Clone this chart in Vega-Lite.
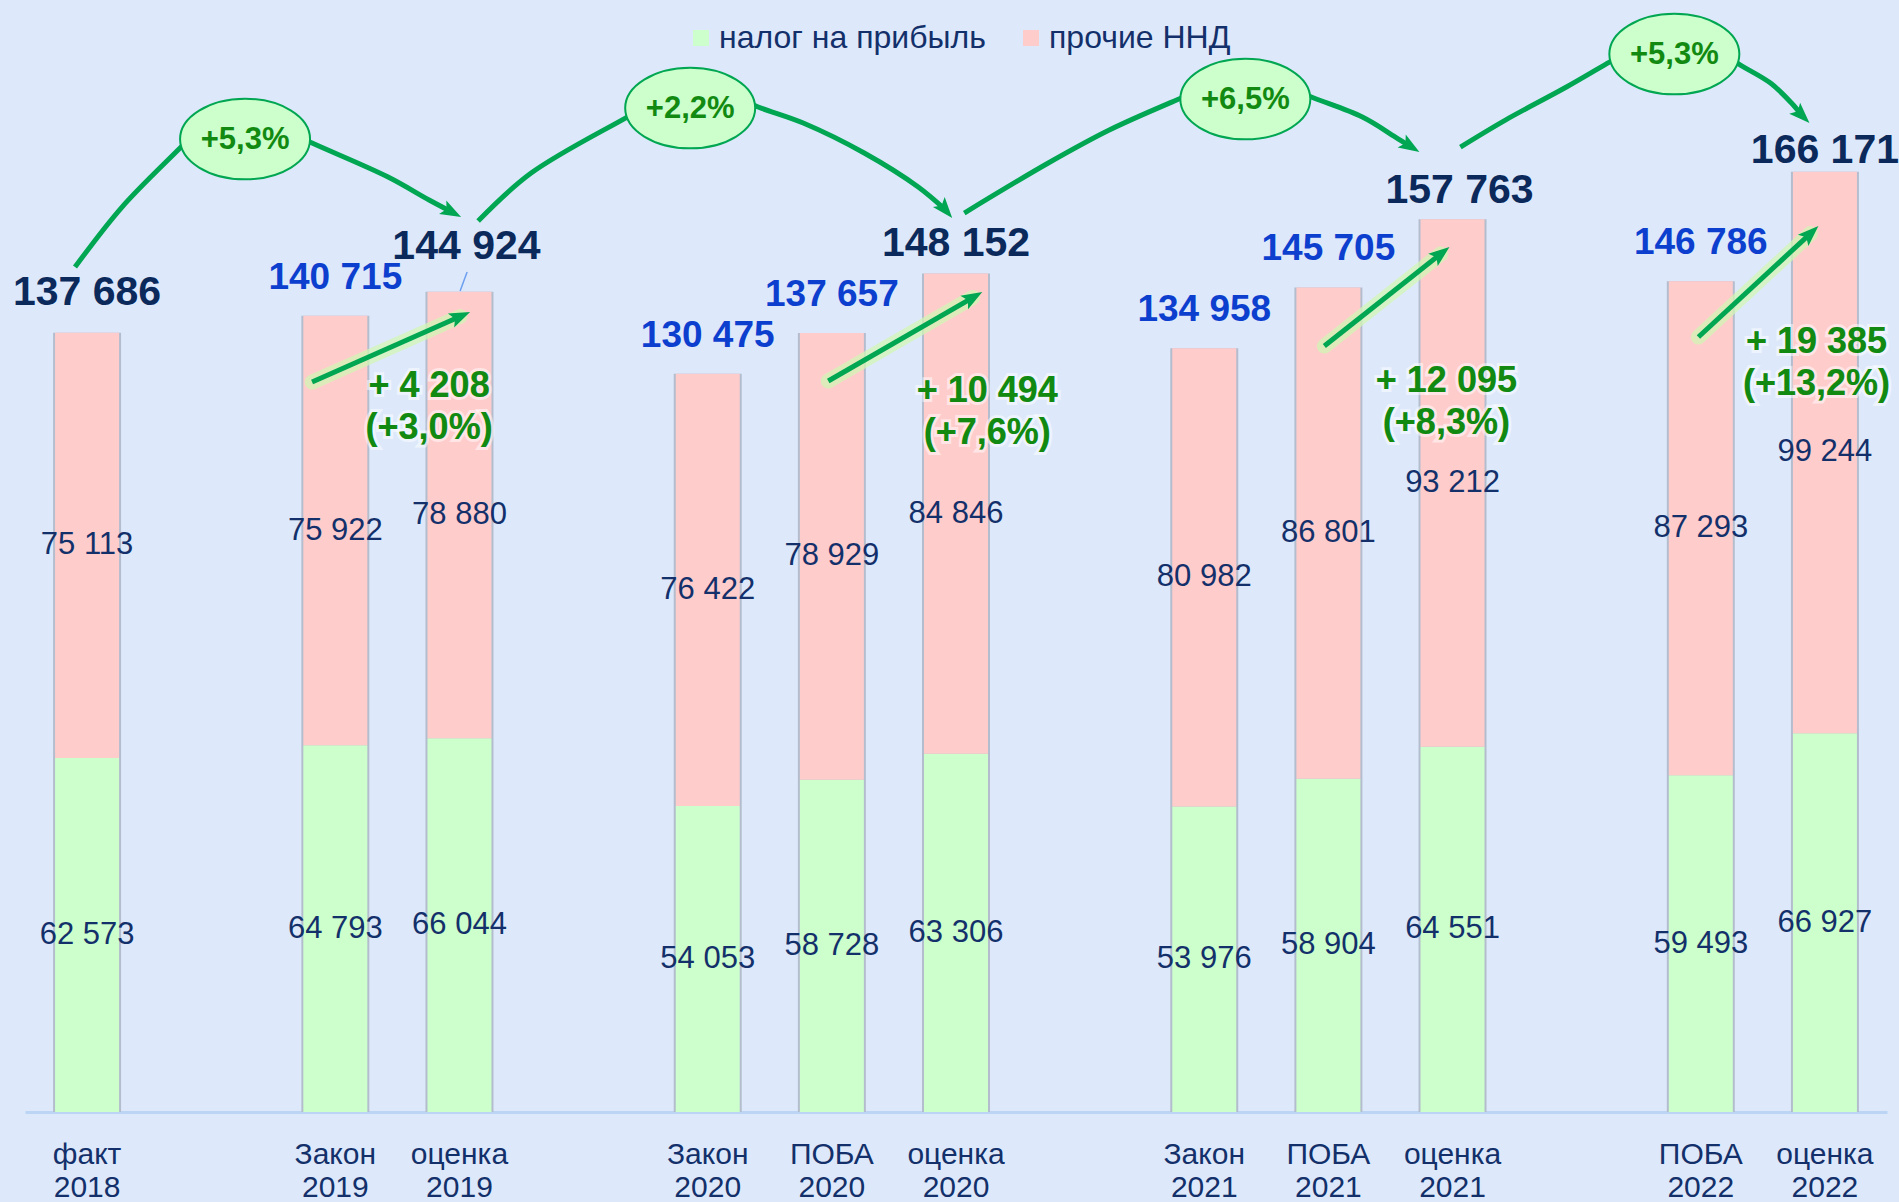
{
  "$schema": "https://vega.github.io/schema/vega-lite/v6.json",
  "width": 1862,
  "height": 1112,
  "autosize": "none",
  "padding": {"left": 25, "top": 0, "right": 12, "bottom": 90},
  "background": "#dde9fb",
  "config": {
    "font": "Liberation Sans",
    "view": {"stroke": null},
    "locale": {"number": {"decimal": ",", "thousands": "\u00a0", "grouping": [3], "currency": ["", ""]}}
  },
  "datasets": {
    "bars": [
      {"cat": "факт 2018", "kind": "факт", "series": "налог на прибыль", "value": 62573},
      {"cat": "факт 2018", "kind": "факт", "series": "прочие ННД", "value": 75113},
      {"cat": "Закон 2019", "kind": "Закон", "series": "налог на прибыль", "value": 64793},
      {"cat": "Закон 2019", "kind": "Закон", "series": "прочие ННД", "value": 75922},
      {"cat": "оценка 2019", "kind": "оценка", "series": "налог на прибыль", "value": 66044},
      {"cat": "оценка 2019", "kind": "оценка", "series": "прочие ННД", "value": 78880},
      {"cat": "Закон 2020", "kind": "Закон", "series": "налог на прибыль", "value": 54053},
      {"cat": "Закон 2020", "kind": "Закон", "series": "прочие ННД", "value": 76422},
      {"cat": "ПОБА 2020", "kind": "ПОБА", "series": "налог на прибыль", "value": 58728},
      {"cat": "ПОБА 2020", "kind": "ПОБА", "series": "прочие ННД", "value": 78929},
      {"cat": "оценка 2020", "kind": "оценка", "series": "налог на прибыль", "value": 63306},
      {"cat": "оценка 2020", "kind": "оценка", "series": "прочие ННД", "value": 84846},
      {"cat": "Закон 2021", "kind": "Закон", "series": "налог на прибыль", "value": 53976},
      {"cat": "Закон 2021", "kind": "Закон", "series": "прочие ННД", "value": 80982},
      {"cat": "ПОБА 2021", "kind": "ПОБА", "series": "налог на прибыль", "value": 58904},
      {"cat": "ПОБА 2021", "kind": "ПОБА", "series": "прочие ННД", "value": 86801},
      {"cat": "оценка 2021", "kind": "оценка", "series": "налог на прибыль", "value": 64551},
      {"cat": "оценка 2021", "kind": "оценка", "series": "прочие ННД", "value": 93212},
      {"cat": "ПОБА 2022", "kind": "ПОБА", "series": "налог на прибыль", "value": 59493},
      {"cat": "ПОБА 2022", "kind": "ПОБА", "series": "прочие ННД", "value": 87293},
      {"cat": "оценка 2022", "kind": "оценка", "series": "налог на прибыль", "value": 66927},
      {"cat": "оценка 2022", "kind": "оценка", "series": "прочие ННД", "value": 99244}
    ],
    "curves": [
      {"id": "c1", "s": -0.0971, "v": 149312}, {"id": "c1", "s": 0.2816, "v": 159914}, {"id": "c1", "s": 0.749, "v": 170339}, {"id": "c1", "s": 0.9504, "v": 174756}, {"id": "c1", "s": 1.2325, "v": 177053}, {"id": "c1", "s": 1.5548, "v": 173873}, {"id": "c1", "s": 1.8127, "v": 171222}, {"id": "c1", "s": 2.425, "v": 165215}, {"id": "c1", "s": 2.7554, "v": 161150}, {"id": "c1", "s": 2.9351, "v": 159065},
      {"id": "c2", "s": 3.1503, "v": 157440}, {"id": "c2", "s": 3.5774, "v": 165921}, {"id": "c2", "s": 4.3509, "v": 175817}, {"id": "c2", "s": 4.5765, "v": 178644}, {"id": "c2", "s": 4.8747, "v": 180234}, {"id": "c2", "s": 5.1809, "v": 179704}, {"id": "c2", "s": 5.4065, "v": 177584}, {"id": "c2", "s": 5.7691, "v": 174756}, {"id": "c2", "s": 6.2607, "v": 169455}, {"id": "c2", "s": 6.6958, "v": 163448}, {"id": "c2", "s": 6.9126, "v": 159454},
      {"id": "c3", "s": 7.0665, "v": 158853}, {"id": "c3", "s": 7.7434, "v": 167688}, {"id": "c3", "s": 8.2349, "v": 173519}, {"id": "c3", "s": 8.8151, "v": 179174}, {"id": "c3", "s": 9.0472, "v": 181294}, {"id": "c3", "s": 9.3308, "v": 182354}, {"id": "c3", "s": 9.6531, "v": 181294}, {"id": "c3", "s": 9.8626, "v": 179350}, {"id": "c3", "s": 10.2736, "v": 175817}, {"id": "c3", "s": 10.5395, "v": 172283}, {"id": "c3", "s": 10.658, "v": 170657},
      {"id": "c4", "s": 11.0633, "v": 170516}, {"id": "c4", "s": 11.4259, "v": 175286}, {"id": "c4", "s": 11.9174, "v": 181118}, {"id": "c4", "s": 12.2639, "v": 185535}, {"id": "c4", "s": 12.4718, "v": 188186}, {"id": "c4", "s": 12.7715, "v": 190129}, {"id": "c4", "s": 13.0919, "v": 188186}, {"id": "c4", "s": 13.3195, "v": 185005}, {"id": "c4", "s": 13.5613, "v": 181824}, {"id": "c4", "s": 13.7305, "v": 178290}, {"id": "c4", "s": 13.8127, "v": 176135}
    ],
    "arrows": [
      {"id": "a1", "s": 1.8127, "v": 128991}, {"id": "a1", "s": 3.0048, "v": 140572},
      {"id": "a2", "s": 5.971, "v": 129168}, {"id": "a2", "s": 7.135, "v": 143922},
      {"id": "a3", "s": 9.9673, "v": 135352}, {"id": "a3", "s": 10.9054, "v": 151644},
      {"id": "a4", "s": 12.981, "v": 136943}, {"id": "a4", "s": 13.8827, "v": 155231}
    ],
    "leader": [
      {"s": 3.0616, "v": 148428}, {"s": 3.0052, "v": 145071}
    ],
    "ellipses": [
      {"s": 1.2728, "v": 171929, "label": "+5,3%"},
      {"s": 4.8586, "v": 177407, "label": "+2,2%"},
      {"s": 9.3308, "v": 179000, "label": "+6,5%"},
      {"s": 12.7869, "v": 186949, "label": "+5,3%"}
    ],
    "increments": [
      {"s": 2.7554, "v": 126341, "label": "+ 4 208\n(+3,0%)"},
      {"s": 7.2518, "v": 125457, "label": "+ 10 494\n(+7,6%)"},
      {"s": 10.9504, "v": 127224, "label": "+ 12 095\n(+8,3%)"},
      {"s": 13.932, "v": 134115, "label": "+ 19 385\n(+13,2%)"}
    ]
  },
  "resolve": {"scale": {"x": "independent"}},
  "layer": [
    {
      "data": {"name": "bars"},
      "mark": {"type": "bar", "width": 68, "color": "#b3bdcd"},
      "encoding": {
        "x": {
          "field": "cat", "type": "nominal", "sort": null,
          "scale": {"domain": ["факт 2018", "g1", "Закон 2019", "оценка 2019", "g2", "Закон 2020", "ПОБА 2020", "оценка 2020", "g3", "Закон 2021", "ПОБА 2021", "оценка 2021", "g4", "ПОБА 2022", "оценка 2022"], "paddingInner": 0, "paddingOuter": 0},
          "axis": {
            "title": null, "ticks": false, "domain": true, "domainColor": "#bcd5f5", "domainWidth": 3,
            "labelAngle": 0, "labelOverlap": false, "labelFontSize": 30, "labelColor": "#13306a",
            "labelPadding": 27, "labelLineHeight": 33,
            "labelExpr": "indexof(datum.label, ' ') > 0 ? split(datum.label, ' ') : ''"
          }
        },
        "y": {"aggregate": "sum", "field": "value", "type": "quantitative", "scale": {"domain": [0, 196500], "nice": false}, "axis": null}
      }
    },
    {
      "data": {"name": "bars"},
      "mark": {"type": "bar", "width": 64},
      "encoding": {
        "x": {"field": "cat", "type": "nominal", "sort": null, "axis": null,
          "scale": {"domain": ["факт 2018", "g1", "Закон 2019", "оценка 2019", "g2", "Закон 2020", "ПОБА 2020", "оценка 2020", "g3", "Закон 2021", "ПОБА 2021", "оценка 2021", "g4", "ПОБА 2022", "оценка 2022"], "paddingInner": 0, "paddingOuter": 0}},
        "y": {"field": "value", "type": "quantitative", "stack": "zero", "axis": null},
        "color": {
          "field": "series", "type": "nominal",
          "scale": {"domain": ["налог на прибыль", "прочие ННД"], "range": ["#ccffcc", "#ffcccc"]},
          "legend": {
            "title": null, "orient": "none", "legendX": 660, "legendY": 22, "direction": "horizontal",
            "symbolType": "square", "symbolSize": 256, "symbolStrokeWidth": 0, "labelFontSize": 32,
            "labelColor": "#13306a", "labelOffset": 2, "columnPadding": 29, "padding": 0, "labelLimit": 0
          }
        },
        "order": {"field": "series", "type": "nominal"}
      }
    },
    {
      "data": {"name": "bars"},
      "transform": [
        {"stack": "value", "groupby": ["cat"], "sort": [{"field": "series", "order": "ascending"}], "as": ["y0", "y1"]},
        {"fold": ["y0", "y1"], "as": ["edge", "pos"]}
      ],
      "mark": {"type": "text", "fontSize": 31, "color": "#13306a", "baseline": "middle"},
      "encoding": {
        "x": {"field": "cat", "type": "nominal", "sort": null, "axis": null,
          "scale": {"domain": ["факт 2018", "g1", "Закон 2019", "оценка 2019", "g2", "Закон 2020", "ПОБА 2020", "оценка 2020", "g3", "Закон 2021", "ПОБА 2021", "оценка 2021", "g4", "ПОБА 2022", "оценка 2022"], "paddingInner": 0, "paddingOuter": 0}},
        "y": {"aggregate": "mean", "field": "pos", "type": "quantitative", "axis": null},
        "detail": {"field": "series", "type": "nominal"},
        "text": {"field": "value", "type": "quantitative", "format": ",d"}
      }
    },
    {
      "data": {"name": "bars"},
      "mark": {"type": "text", "fontSize": 37, "fontWeight": "bold", "color": "#0d3fcf", "baseline": "alphabetic", "dy": -27},
      "transform": [{"filter": "datum.kind === 'Закон' || datum.kind === 'ПОБА'"}],
      "encoding": {
        "x": {"field": "cat", "type": "nominal", "sort": null, "axis": null,
          "scale": {"domain": ["факт 2018", "g1", "Закон 2019", "оценка 2019", "g2", "Закон 2020", "ПОБА 2020", "оценка 2020", "g3", "Закон 2021", "ПОБА 2021", "оценка 2021", "g4", "ПОБА 2022", "оценка 2022"], "paddingInner": 0, "paddingOuter": 0}},
        "y": {"aggregate": "sum", "field": "value", "type": "quantitative", "axis": null},
        "text": {"aggregate": "sum", "field": "value", "type": "quantitative", "format": ",d"}
      }
    },
    {
      "data": {"name": "bars"},
      "mark": {"type": "text", "fontSize": 41, "fontWeight": "bold", "color": "#0b2a5b", "baseline": "alphabetic", "dy": -28},
      "transform": [{"filter": "datum.cat === 'факт 2018'"}],
      "encoding": {
        "x": {"field": "cat", "type": "nominal", "sort": null, "axis": null,
          "scale": {"domain": ["факт 2018", "g1", "Закон 2019", "оценка 2019", "g2", "Закон 2020", "ПОБА 2020", "оценка 2020", "g3", "Закон 2021", "ПОБА 2021", "оценка 2021", "g4", "ПОБА 2022", "оценка 2022"], "paddingInner": 0, "paddingOuter": 0}},
        "y": {"aggregate": "sum", "field": "value", "type": "quantitative", "axis": null},
        "text": {"aggregate": "sum", "field": "value", "type": "quantitative", "format": ",d"}
      }
    },
    {
      "data": {"name": "bars"},
      "mark": {"type": "text", "fontSize": 41, "fontWeight": "bold", "color": "#0b2a5b", "baseline": "alphabetic", "dy": -33, "dx": 7},
      "transform": [{"filter": "datum.cat === 'оценка 2019'"}],
      "encoding": {
        "x": {"field": "cat", "type": "nominal", "sort": null, "axis": null,
          "scale": {"domain": ["факт 2018", "g1", "Закон 2019", "оценка 2019", "g2", "Закон 2020", "ПОБА 2020", "оценка 2020", "g3", "Закон 2021", "ПОБА 2021", "оценка 2021", "g4", "ПОБА 2022", "оценка 2022"], "paddingInner": 0, "paddingOuter": 0}},
        "y": {"aggregate": "sum", "field": "value", "type": "quantitative", "axis": null},
        "text": {"aggregate": "sum", "field": "value", "type": "quantitative", "format": ",d"}
      }
    },
    {
      "data": {"name": "bars"},
      "mark": {"type": "text", "fontSize": 41, "fontWeight": "bold", "color": "#0b2a5b", "baseline": "alphabetic", "dy": -18},
      "transform": [{"filter": "datum.cat === 'оценка 2020'"}],
      "encoding": {
        "x": {"field": "cat", "type": "nominal", "sort": null, "axis": null,
          "scale": {"domain": ["факт 2018", "g1", "Закон 2019", "оценка 2019", "g2", "Закон 2020", "ПОБА 2020", "оценка 2020", "g3", "Закон 2021", "ПОБА 2021", "оценка 2021", "g4", "ПОБА 2022", "оценка 2022"], "paddingInner": 0, "paddingOuter": 0}},
        "y": {"aggregate": "sum", "field": "value", "type": "quantitative", "axis": null},
        "text": {"aggregate": "sum", "field": "value", "type": "quantitative", "format": ",d"}
      }
    },
    {
      "data": {"name": "bars"},
      "mark": {"type": "text", "fontSize": 41, "fontWeight": "bold", "color": "#0b2a5b", "baseline": "alphabetic", "dy": -16, "dx": 7},
      "transform": [{"filter": "datum.cat === 'оценка 2021'"}],
      "encoding": {
        "x": {"field": "cat", "type": "nominal", "sort": null, "axis": null,
          "scale": {"domain": ["факт 2018", "g1", "Закон 2019", "оценка 2019", "g2", "Закон 2020", "ПОБА 2020", "оценка 2020", "g3", "Закон 2021", "ПОБА 2021", "оценка 2021", "g4", "ПОБА 2022", "оценка 2022"], "paddingInner": 0, "paddingOuter": 0}},
        "y": {"aggregate": "sum", "field": "value", "type": "quantitative", "axis": null},
        "text": {"aggregate": "sum", "field": "value", "type": "quantitative", "format": ",d"}
      }
    },
    {
      "data": {"name": "bars"},
      "mark": {"type": "text", "fontSize": 41, "fontWeight": "bold", "color": "#0b2a5b", "baseline": "alphabetic", "dy": -9},
      "transform": [{"filter": "datum.cat === 'оценка 2022'"}],
      "encoding": {
        "x": {"field": "cat", "type": "nominal", "sort": null, "axis": null,
          "scale": {"domain": ["факт 2018", "g1", "Закон 2019", "оценка 2019", "g2", "Закон 2020", "ПОБА 2020", "оценка 2020", "g3", "Закон 2021", "ПОБА 2021", "оценка 2021", "g4", "ПОБА 2022", "оценка 2022"], "paddingInner": 0, "paddingOuter": 0}},
        "y": {"aggregate": "sum", "field": "value", "type": "quantitative", "axis": null},
        "text": {"aggregate": "sum", "field": "value", "type": "quantitative", "format": ",d"}
      }
    },
    {
      "data": {"name": "leader"},
      "mark": {"type": "line", "color": "#6d9ff0", "strokeWidth": 1.5},
      "encoding": {
        "x": {"field": "s", "type": "quantitative", "scale": {"domain": [-0.5, 14.5], "nice": false, "zero": false}, "axis": null},
        "y": {"field": "v", "type": "quantitative", "axis": null}
      }
    },
    {
      "data": {"name": "arrows"},
      "mark": {"type": "line", "color": "#d2f5b4", "strokeWidth": 15, "opacity": 0.75, "strokeCap": "round"},
      "encoding": {
        "x": {"field": "s", "type": "quantitative", "scale": {"domain": [-0.5, 14.5], "nice": false, "zero": false}, "axis": null},
        "y": {"field": "v", "type": "quantitative", "axis": null},
        "detail": {"field": "id", "type": "nominal"}
      }
    },
    {
      "data": {"name": "arrows"},
      "mark": {"type": "line", "color": "#00a651", "strokeWidth": 5},
      "encoding": {
        "x": {"field": "s", "type": "quantitative", "scale": {"domain": [-0.5, 14.5], "nice": false, "zero": false}, "axis": null},
        "y": {"field": "v", "type": "quantitative", "axis": null},
        "detail": {"field": "id", "type": "nominal"}
      }
    },
    {
      "data": {"name": "curves"},
      "mark": {"type": "line", "color": "#00a651", "strokeWidth": 5, "interpolate": "catmull-rom"},
      "encoding": {
        "x": {"field": "s", "type": "quantitative", "scale": {"domain": [-0.5, 14.5], "nice": false, "zero": false}, "axis": null},
        "y": {"field": "v", "type": "quantitative", "axis": null},
        "detail": {"field": "id", "type": "nominal"}
      }
    },
    {
      "data": {"values": [{"s": 2.9351, "v": 159065}]},
      "mark": {"type": "point", "shape": "M0,-1L0.7,0.9L0,0.5L-0.7,0.9Z", "size": 484, "filled": true, "color": "#00a651", "opacity": 1, "angle": 118},
      "encoding": {"x": {"field": "s", "type": "quantitative", "scale": {"domain": [-0.5, 14.5], "nice": false, "zero": false}, "axis": null}, "y": {"field": "v", "type": "quantitative", "axis": null}}
    },
    {
      "data": {"values": [{"s": 6.9126, "v": 159454}]},
      "mark": {"type": "point", "shape": "M0,-1L0.7,0.9L0,0.5L-0.7,0.9Z", "size": 484, "filled": true, "color": "#00a651", "opacity": 1, "angle": 140},
      "encoding": {"x": {"field": "s", "type": "quantitative", "scale": {"domain": [-0.5, 14.5], "nice": false, "zero": false}, "axis": null}, "y": {"field": "v", "type": "quantitative", "axis": null}}
    },
    {
      "data": {"values": [{"s": 10.658, "v": 170657}]},
      "mark": {"type": "point", "shape": "M0,-1L0.7,0.9L0,0.5L-0.7,0.9Z", "size": 484, "filled": true, "color": "#00a651", "opacity": 1, "angle": 122},
      "encoding": {"x": {"field": "s", "type": "quantitative", "scale": {"domain": [-0.5, 14.5], "nice": false, "zero": false}, "axis": null}, "y": {"field": "v", "type": "quantitative", "axis": null}}
    },
    {
      "data": {"values": [{"s": 13.8127, "v": 176135}]},
      "mark": {"type": "point", "shape": "M0,-1L0.7,0.9L0,0.5L-0.7,0.9Z", "size": 484, "filled": true, "color": "#00a651", "opacity": 1, "angle": 135},
      "encoding": {"x": {"field": "s", "type": "quantitative", "scale": {"domain": [-0.5, 14.5], "nice": false, "zero": false}, "axis": null}, "y": {"field": "v", "type": "quantitative", "axis": null}}
    },
    {
      "data": {"values": [{"s": 3.0048, "v": 140572}]},
      "mark": {"type": "point", "shape": "M0,-1L0.7,0.9L0,0.5L-0.7,0.9Z", "size": 484, "filled": true, "color": "#00a651", "opacity": 1, "angle": 66},
      "encoding": {"x": {"field": "s", "type": "quantitative", "scale": {"domain": [-0.5, 14.5], "nice": false, "zero": false}, "axis": null}, "y": {"field": "v", "type": "quantitative", "axis": null}}
    },
    {
      "data": {"values": [{"s": 7.135, "v": 143922}]},
      "mark": {"type": "point", "shape": "M0,-1L0.7,0.9L0,0.5L-0.7,0.9Z", "size": 484, "filled": true, "color": "#00a651", "opacity": 1, "angle": 60},
      "encoding": {"x": {"field": "s", "type": "quantitative", "scale": {"domain": [-0.5, 14.5], "nice": false, "zero": false}, "axis": null}, "y": {"field": "v", "type": "quantitative", "axis": null}}
    },
    {
      "data": {"values": [{"s": 10.9054, "v": 151644}]},
      "mark": {"type": "point", "shape": "M0,-1L0.7,0.9L0,0.5L-0.7,0.9Z", "size": 484, "filled": true, "color": "#00a651", "opacity": 1, "angle": 52},
      "encoding": {"x": {"field": "s", "type": "quantitative", "scale": {"domain": [-0.5, 14.5], "nice": false, "zero": false}, "axis": null}, "y": {"field": "v", "type": "quantitative", "axis": null}}
    },
    {
      "data": {"values": [{"s": 13.8827, "v": 155231}]},
      "mark": {"type": "point", "shape": "M0,-1L0.7,0.9L0,0.5L-0.7,0.9Z", "size": 484, "filled": true, "color": "#00a651", "opacity": 1, "angle": 47},
      "encoding": {"x": {"field": "s", "type": "quantitative", "scale": {"domain": [-0.5, 14.5], "nice": false, "zero": false}, "axis": null}, "y": {"field": "v", "type": "quantitative", "axis": null}}
    },
    {
      "data": {"name": "ellipses"},
      "mark": {"type": "point", "shape": "M-1,0A1,0.62,0,1,1,1,0A1,0.62,0,1,1,-1,0Z", "size": 16900, "filled": true, "fill": "#ccffcc", "stroke": "#00a651", "strokeWidth": 2, "opacity": 1, "fillOpacity": 1, "strokeOpacity": 1},
      "encoding": {"x": {"field": "s", "type": "quantitative", "scale": {"domain": [-0.5, 14.5], "nice": false, "zero": false}, "axis": null}, "y": {"field": "v", "type": "quantitative", "axis": null}}
    },
    {
      "data": {"name": "ellipses"},
      "mark": {"type": "text", "fontSize": 31, "fontWeight": "bold", "color": "#128a12", "baseline": "middle", "dy": 1},
      "encoding": {"x": {"field": "s", "type": "quantitative", "scale": {"domain": [-0.5, 14.5], "nice": false, "zero": false}, "axis": null}, "y": {"field": "v", "type": "quantitative", "axis": null}, "text": {"field": "label", "type": "nominal"}}
    },
    {
      "data": {"name": "increments"},
      "mark": {"type": "text", "fontSize": 36, "fontWeight": "bold", "color": "#128a12", "stroke": "#ffffff", "strokeWidth": 6, "strokeOpacity": 0.5, "baseline": "alphabetic", "lineBreak": "\n", "lineHeight": 42},
      "encoding": {"x": {"field": "s", "type": "quantitative", "scale": {"domain": [-0.5, 14.5], "nice": false, "zero": false}, "axis": null}, "y": {"field": "v", "type": "quantitative", "axis": null}, "text": {"field": "label", "type": "nominal"}}
    },
    {
      "data": {"name": "increments"},
      "mark": {"type": "text", "fontSize": 36, "fontWeight": "bold", "color": "#128a12", "baseline": "alphabetic", "lineBreak": "\n", "lineHeight": 42},
      "encoding": {"x": {"field": "s", "type": "quantitative", "scale": {"domain": [-0.5, 14.5], "nice": false, "zero": false}, "axis": null}, "y": {"field": "v", "type": "quantitative", "axis": null}, "text": {"field": "label", "type": "nominal"}}
    }
  ]
}
